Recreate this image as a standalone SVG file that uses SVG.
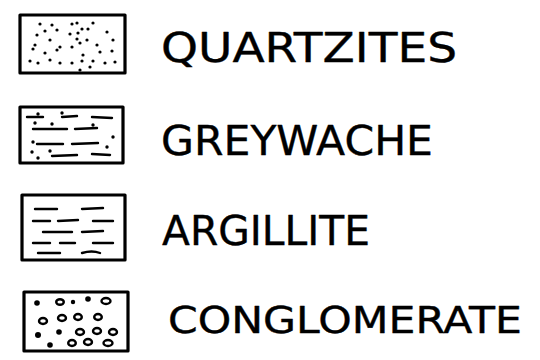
<svg xmlns="http://www.w3.org/2000/svg" width="540" height="360" viewBox="0 0 540 360">
<style>
.box{fill:#fff;stroke:#000;stroke-width:3.2;stroke-linejoin:round}
.dash{stroke:#000;stroke-width:2.4;stroke-linecap:round;fill:none}
.lbl{font-family:"DejaVu Sans","Liberation Sans",sans-serif;fill:#000;stroke:#000;stroke-width:0.4;stroke-linejoin:round}
.pb{fill:#fff;stroke:#000;stroke-width:2.4}
.q circle{r:1.6}
</style>
<rect width="540" height="360" fill="#fff"/>
<g id="quartzites">
<rect class="box" x="20" y="15" width="105" height="58"/>
<g fill="#000" class="q">
<circle cx="40" cy="24" r="1.6"/><circle cx="52" cy="25" r="1.6"/><circle cx="72" cy="24" r="1.6"/><circle cx="77" cy="23" r="1.6"/><circle cx="93" cy="23" r="1.6"/>
<circle cx="45" cy="31" r="1.6"/><circle cx="57" cy="30" r="1.6"/><circle cx="82" cy="29" r="1.6"/><circle cx="88" cy="29" r="1.6"/>
<circle cx="37" cy="35" r="1.6"/><circle cx="70" cy="34" r="1.6"/><circle cx="78" cy="33" r="1.6"/><circle cx="107" cy="32" r="1.6"/>
<circle cx="50" cy="40" r="1.6"/><circle cx="77" cy="39" r="1.8"/><circle cx="87" cy="40" r="1.6"/><circle cx="113" cy="40" r="1.6"/>
<circle cx="35" cy="45" r="1.6"/><circle cx="60" cy="47" r="1.8"/><circle cx="72" cy="47" r="1.6"/><circle cx="80" cy="43" r="1.6"/><circle cx="97" cy="45" r="1.6"/>
<circle cx="33" cy="49" r="1.6"/><circle cx="57" cy="50" r="1.6"/><circle cx="100" cy="52" r="1.6"/><circle cx="112" cy="51" r="1.6"/>
<circle cx="45" cy="53" r="1.6"/><circle cx="83" cy="55" r="1.6"/>
<circle cx="30" cy="61" r="1.8"/><circle cx="38" cy="63" r="1.6"/><circle cx="50" cy="60" r="1.6"/><circle cx="60" cy="63" r="1.6"/><circle cx="72" cy="63" r="1.6"/><circle cx="82" cy="61" r="1.6"/><circle cx="93" cy="61" r="1.6"/><circle cx="105" cy="63" r="1.6"/><circle cx="115" cy="62" r="1.6"/>
<circle cx="90" cy="67" r="1.6"/><circle cx="80" cy="70" r="1.6"/>
</g>
<text class="lbl" x="161" y="62" font-size="41" textLength="296" lengthAdjust="spacingAndGlyphs">QUARTZITES</text>
</g>
<g id="greywache">
<rect class="box" x="20" y="107" width="103" height="56"/>
<g class="dash">
<line x1="27" y1="117" x2="43" y2="117"/><line x1="62" y1="117" x2="77" y2="116"/><line x1="92" y1="117" x2="112" y2="118"/>
<line x1="33" y1="129" x2="67" y2="129"/><line x1="75" y1="129" x2="97" y2="128"/>
<line x1="37" y1="144" x2="63" y2="144"/><line x1="72" y1="144" x2="98" y2="143"/>
<line x1="52" y1="156" x2="77" y2="155"/><line x1="92" y1="154" x2="110" y2="155"/>
</g>
<g fill="#000">
<circle cx="38" cy="114" r="1.7"/><circle cx="62" cy="113" r="1.7"/><circle cx="35" cy="123" r="1.7"/><circle cx="52" cy="124" r="1.7"/><circle cx="93" cy="125" r="1.7"/>
<circle cx="33" cy="142" r="1.7"/><circle cx="107" cy="147" r="1.7"/><circle cx="32" cy="152" r="1.7"/><circle cx="50" cy="151" r="1.7"/><circle cx="113" cy="137" r="1.7"/><circle cx="38" cy="158" r="1.7"/>
</g>
<text class="lbl" x="161" y="155" font-size="41" textLength="272" lengthAdjust="spacingAndGlyphs">GREYWACHE</text>
</g>
<g id="argillite">
<rect class="box" x="22" y="195" width="103" height="65"/>
<g class="dash">
<line x1="35" y1="209" x2="57" y2="209"/><line x1="82" y1="209" x2="103" y2="208"/>
<line x1="33" y1="221" x2="50" y2="221"/><line x1="58" y1="221" x2="78" y2="220"/><line x1="93" y1="221" x2="113" y2="221"/>
<line x1="43" y1="232" x2="72" y2="232"/><line x1="82" y1="232" x2="103" y2="231"/>
<line x1="33" y1="243" x2="50" y2="243"/><line x1="60" y1="243" x2="75" y2="243"/><line x1="93" y1="243" x2="113" y2="243"/>
<line x1="38" y1="253" x2="60" y2="253"/><path d="M82 253 Q92 250 100 253"/>
</g>
<text class="lbl" x="162" y="245" font-size="41" textLength="208" lengthAdjust="spacingAndGlyphs">ARGILLITE</text>
</g>
<g id="conglomerate">
<rect class="box" x="24" y="292" width="104" height="59"/>
<g fill="#000">
<circle cx="37" cy="303" r="2.8"/><circle cx="73" cy="302" r="2.2"/><circle cx="88" cy="299" r="2.8"/>
<circle cx="38" cy="335" r="3"/><circle cx="59" cy="332" r="2.8"/><circle cx="50" cy="345" r="2.8"/>
</g>
<g class="pb">
<ellipse cx="60" cy="302" rx="3.8" ry="2.8"/><ellipse cx="106" cy="301" rx="4.5" ry="3"/>
<ellipse cx="43" cy="321" rx="4" ry="3"/><ellipse cx="62" cy="318" rx="4" ry="3"/><ellipse cx="78" cy="317" rx="3.8" ry="3"/><ellipse cx="98" cy="317" rx="3.8" ry="3"/>
<ellipse cx="80" cy="332" rx="4" ry="3"/><ellipse cx="97" cy="331" rx="4" ry="3"/><ellipse cx="113" cy="332" rx="4" ry="3"/>
<ellipse cx="72" cy="343" rx="3.8" ry="3"/><ellipse cx="88" cy="342" rx="4" ry="3"/><ellipse cx="108" cy="343" rx="4.5" ry="3"/>
</g>
<text class="lbl" x="168" y="333" font-size="37" textLength="354" lengthAdjust="spacingAndGlyphs">CONGLOMERATE</text>
</g>
<g id="connectors"/>
</svg>
